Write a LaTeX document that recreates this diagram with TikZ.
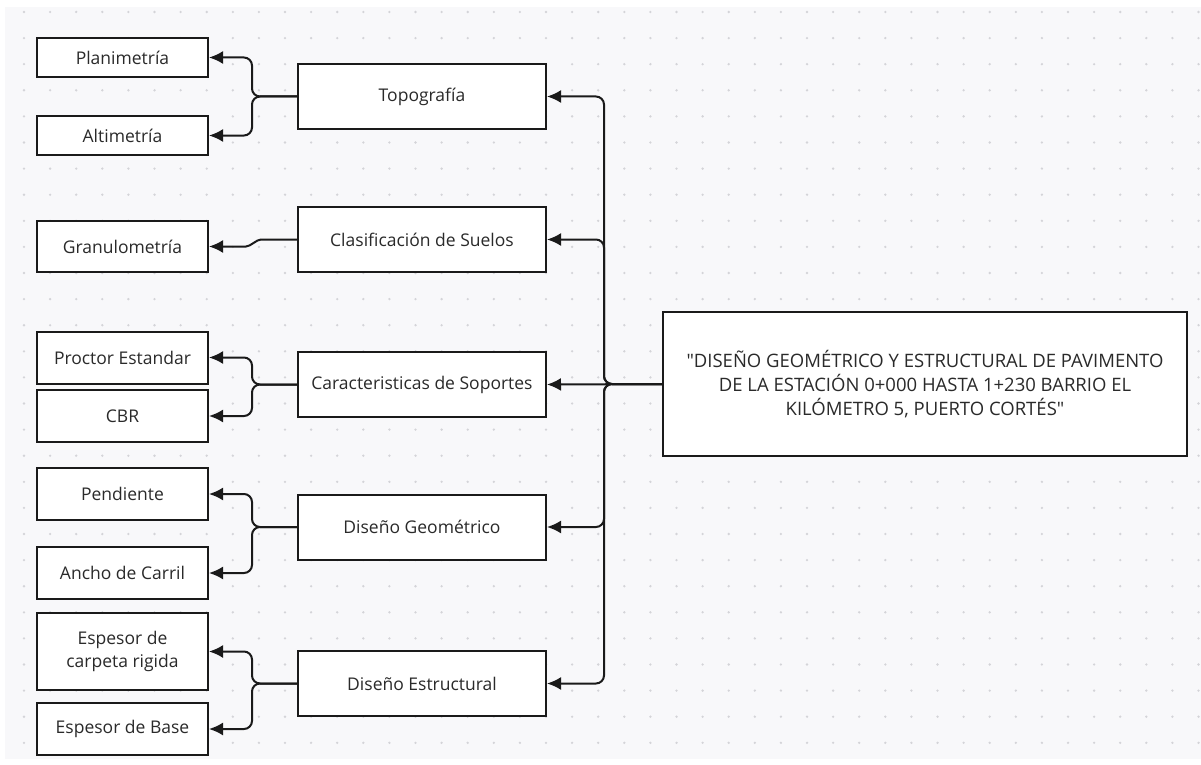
\documentclass[tikz,border=0pt]{standalone}
\usepackage{fontspec}
\setmainfont{Open Sans}[Ligatures=TeXOff]
\usetikzlibrary{arrows.meta}
\definecolor{paper}{HTML}{F8F8FA}
\definecolor{griddot}{HTML}{D4D4D8}
\definecolor{ink}{HTML}{1A1A1A}
\definecolor{txt}{HTML}{2A2A2A}

\begin{document}
\begin{tikzpicture}[x=1pt,y=-1pt,>={Latex[length=14pt,width=13pt]},
        box/.style={draw=ink,fill=white,line width=2pt,text=txt,align=center,
          inner sep=0pt,font=\fontsize{17.5}{23}\selectfont},
        leaf/.style={box,minimum width=171pt,minimum height=52pt},
        topic/.style={box,minimum width=248pt,minimum height=65pt},
        title/.style={box,minimum width=524pt,minimum height=144pt,
          font=\fontsize{18.5}{24}\selectfont},
        link/.style={->,draw=ink,line width=2pt,rounded corners=8pt}]

  % paper and dotted grid
  \fill[white] (0,0) rectangle (1201,765);
  \useasboundingbox (0,0) rectangle (1201,765);
  \fill[paper] (5,7) rectangle (1201,759);
  \foreach \i in {0,...,45}
    \foreach \j in {0,...,28}
      \fill[griddot] (24+26.1*\i,12+26.1*\j) circle (1.3pt);

  \node[title] (main) at (925,384) {"DISEÑO GEOMÉTRICO Y ESTRUCTURAL DE PAVIMENTO\\
    DE LA ESTACIÓN 0+000 HASTA 1+230 BARRIO EL\\ KILÓMETRO 5, PUERTO CORTÉS"};

  \node[topic] (topo)  at (422,96.5)  {Topografía};
  \node[topic] (clas)  at (422,239.5) {Clasificación de Suelos};
  \node[topic] (carac) at (422,384.5) {Caracteristicas de Soportes};
  \node[topic] (geo)   at (422,527)   {Diseño Geométrico};
  \node[topic] (estr)  at (422,683.5) {Diseño Estructural};

  \node[leaf,minimum height=39pt] (plan) at (122.5,57.5) {Planimetría};
  \node[leaf,minimum height=39pt] (alti) at (122.5,135.5) {Altimetría};
  \node[leaf,minimum height=51pt] (granu) at (122.5,246.5) {Granulometría};
  \node[leaf] (proc)  at (122.5,357.5) {Proctor Estandar};
  \node[leaf] (cbr)   at (122.5,416)   {CBR};
  \node[leaf] (pend)  at (122.5,494)   {Pendiente};
  \node[leaf] (ancho) at (122.5,573)   {Ancho de Carril};
  \node[leaf,minimum height=77pt] (carp) at (122.5,651.5) {Espesor de\\ carpeta rigida};
  \node[leaf] (base)  at (122.5,729)   {Espesor de Base};

  \coordinate (hub) at (604,384);
  \coordinate (g1) at (238,246.5);

  % title to topics
  \draw[link] (main.west) -- (hub) |- (topo.east);
  \draw[link] (main.west) -- (hub) |- (clas.east);
  \draw[link] (main.west) -- (carac.east);
  \draw[link] (main.west) -- (hub) |- (geo.east);
  \draw[link] (main.west) -- (hub) |- (estr.east);

  % topics to leaves
  \draw[link] (topo.west) -- ++(-45,0) |- (plan.east);
  \draw[link] (topo.west) -- ++(-45,0) |- (alti.east);
  \draw[link] (clas.west) -- ++(-28,0) to[out=180,in=0] (g1) -- (granu.east);
  \draw[link] (carac.west) -- ++(-45,0) |- (proc.east);
  \draw[link] (carac.west) -- ++(-45,0) |- (cbr.east);
  \draw[link] (geo.west) -- ++(-45,0) |- (pend.east);
  \draw[link] (geo.west) -- ++(-45,0) |- (ancho.east);
  \draw[link] (estr.west) -- ++(-45,0) |- (carp.east);
  \draw[link] (estr.west) -- ++(-45,0) |- (base.east);

\end{tikzpicture}
\end{document}
